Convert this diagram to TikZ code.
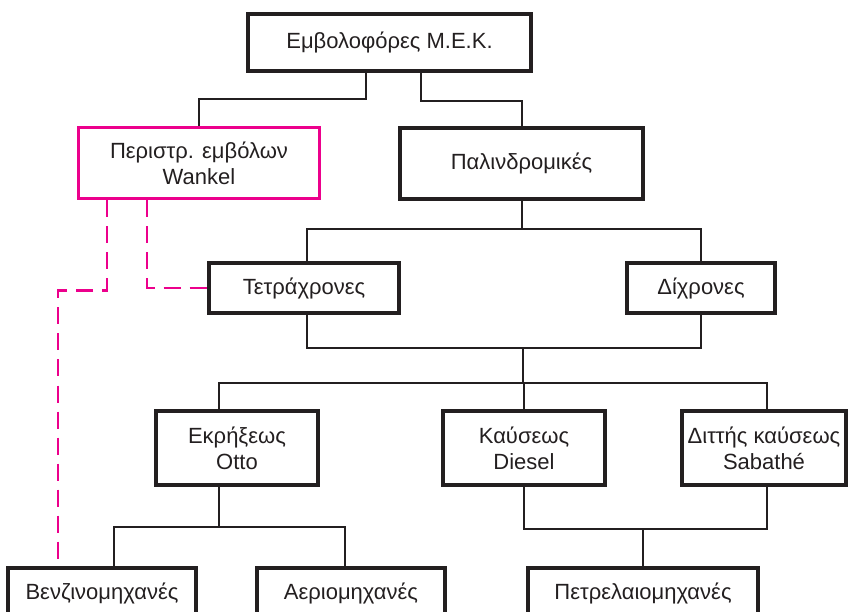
\documentclass[tikz,border=0pt]{standalone}
\usepackage{fontspec}
\setmainfont{Liberation Sans}
\usepackage{xcolor}
\definecolor{mekpink}{HTML}{EC008C}
\definecolor{mekline}{HTML}{231F20}
\usetikzlibrary{positioning}

\begin{document}
\begin{tikzpicture}[x=1pt, y=-1pt,%Edit size here
      box/.style = {draw=mekline, line width=3.5pt, align=center, inner sep=2pt,
                    font=\fontsize{22}{26}\selectfont, text=mekline},
      pinkbox/.style = {box, draw=mekpink, line width=3pt},
      link/.style = {draw=mekline, line width=2pt},
      pinkdash/.style = {draw=mekpink, line width=2.5pt, dash pattern=on 17pt off 9pt}]
      \useasboundingbox (0,0) rectangle (849,612);
      % boxes
      \node[box, minimum width=283pt, minimum height=57pt] (mek) at (389.5,42.5) {Εμβολοφόρες Μ.Ε.Κ.};
      \node[pinkbox, minimum width=241pt, minimum height=71pt] (wankel) at (199,163.5) {Περιστρ. εμβόλων\\Wankel};
      \node[box, minimum width=243pt, minimum height=71pt] (palin) at (521.5,163.5) {Παλινδρομικές};
      \node[box, minimum width=190pt, minimum height=50pt] (tetra) at (304,288) {Τετράχρονες};
      \node[box, minimum width=148pt, minimum height=50pt] (dich) at (701,288) {Δίχρονες};
      \node[box, minimum width=162pt, minimum height=74pt] (otto) at (237,448) {Εκρήξεως\\Otto};
      \node[box, minimum width=162pt, minimum height=74pt] (diesel) at (524,448) {Καύσεως\\Diesel};
      \node[box, minimum width=164pt, minimum height=74pt] (sabathe) at (764,448) {Διττής καύσεως\\Sabathé};
      \node[box, minimum width=188pt, minimum height=50pt] (benz) at (102,593) {Βενζινομηχανές};
      \node[box, minimum width=188pt, minimum height=50pt] (aerio) at (351,593) {Αεριομηχανές};
      \node[box, minimum width=230pt, minimum height=50pt] (petrel) at (643,593) {Πετρελαιομηχανές};
      % joints
      \coordinate (j1) at (521.5,229);
      \coordinate (j2) at (523,348);
      \coordinate (j3) at (523,383);
      \coordinate (j4) at (219,527);
      \coordinate (j5) at (643,529);
      % tree
      \draw[link] ([xshift=-24pt]mek.south) -- ++(0,26) -| (wankel.north);
      \draw[link] ([xshift=31pt]mek.south) -- ++(0,28) -| (palin.north);
      \draw[link] (palin.south) -- (j1);
      \draw[link] ([xshift=3pt]tetra.north) |- (j1) -| (dich.north);
      \draw[link] ([xshift=3pt]tetra.south) |- (j2) -| (dich.south);
      \draw[link] (j2) -- (j3);
      \draw[link] ([xshift=-18pt]otto.north) |- (j3) -| ([xshift=3pt]sabathe.north);
      \draw[link] (diesel.north) -- (diesel.north |- j3);
      \draw[link] ([xshift=-18pt]otto.south) -- (j4);
      \draw[link] ([xshift=12pt]benz.north) |- (j4) -| ([xshift=-6pt]aerio.north);
      \draw[link] (diesel.south) |- (j5) -| ([xshift=3pt]sabathe.south);
      \draw[link] (j5) -- (petrel.north);
      % Wankel
      \draw[pinkdash] ([xshift=-92pt]wankel.south) -- ++(0,90) -| ([xshift=-44pt,yshift=5pt]benz.north);
      \draw[pinkdash] ([xshift=-52pt]wankel.south) |- (tetra.west);
\end{tikzpicture}
\end{document}
